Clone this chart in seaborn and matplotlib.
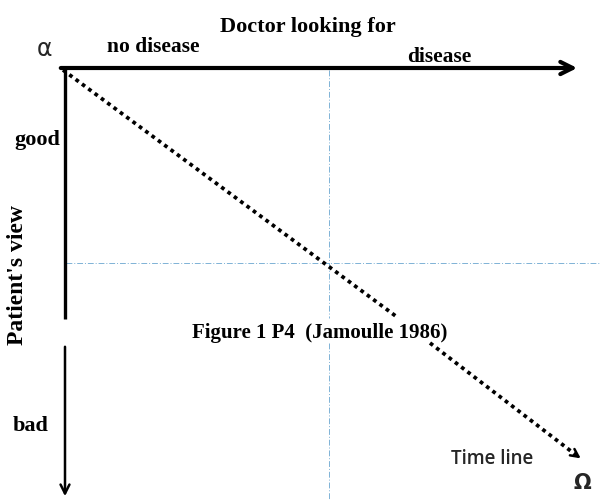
import pandas as pd
import matplotlib.pyplot as plt
import seaborn as sns

sns.set_style("white")
plt.rcParams['font.family'] = ['Liberation Serif', 'DejaVu Sans']

# Diagram geometry (canvas pixels, y pointing down)
time_x = [63, 397, 430, 576]
time_y = [70, 317, 343, 455]
time_seg = ["a", "a", "b", "b"]
arrow_tip = (583, 460)

h_axis_x = [58, 580]
h_axis_y = 68
v_axis_x = 65
v_axis_top = [68, 319]
v_axis_bottom = [344, 499]

cross_x = 329
cross_y = 263
cross_v_parts = [(70, 318), (343, 501)]
cross_h = [66, 600]

df_time = pd.DataFrame({"x": time_x, "y": time_y, "seg": time_seg})

fig = plt.figure(figsize=(6, 5.01), dpi=100)
ax = fig.add_axes([0, 0, 1, 1])
ax.set_xlim(0, 600)
ax.set_ylim(501, 0)
ax.axis("off")

# quadrant cross (light blue dash-dot)
guide_col = "#7fb2d6"
for y0, y1 in cross_v_parts:
    ax.plot([cross_x, cross_x], [y0, y1], color=guide_col, lw=0.7, ls=(0, (6, 2, 1, 2)))
ax.plot(cross_h, [cross_y, cross_y], color=guide_col, lw=0.7, ls=(0, (6, 2, 1, 2)))

# time line (dotted)
sns.lineplot(data=df_time, x="x", y="y", units="seg", estimator=None, sort=False,
             color="black", lw=2.7, ax=ax, legend=False)
for line in ax.lines[-2:]:
    line.set_dashes((1, 1.1))
ax.annotate("", xy=arrow_tip, xytext=(time_x[-1] - 2, time_y[-1] - 1.5),
            arrowprops=dict(arrowstyle="->", color="black", lw=1.8, mutation_scale=14))

# main axes
ax.annotate("", xy=(h_axis_x[1], h_axis_y), xytext=(h_axis_x[0], h_axis_y),
            arrowprops=dict(arrowstyle="->", color="black", lw=3, mutation_scale=22))
ax.plot([v_axis_x, v_axis_x], v_axis_top, color="black", lw=2.4, solid_capstyle="butt")
ax.annotate("", xy=(v_axis_x, v_axis_bottom[1]), xytext=(v_axis_x, v_axis_bottom[0]),
            arrowprops=dict(arrowstyle="->", color="black", lw=1.8, mutation_scale=16))

# labels
bold = dict(fontweight="bold", color="black")
ax.text(308, 27, "Doctor looking for", fontsize=16, ha="center", va="center", **bold)
ax.text(153, 47, "no disease", fontsize=15.5, ha="center", va="center", **bold)
ax.text(439, 57, "disease", fontsize=15.5, ha="center", va="center", **bold)
ax.text(45, 49, "α", fontsize=17, ha="center", va="center", family="DejaVu Sans")
ax.text(37, 140, "good", fontsize=16, ha="center", va="center", **bold)
ax.text(18, 275, "Patient's view", fontsize=17, rotation=90, ha="center", va="center", **bold)
ax.text(31, 426, "bad", fontsize=16, ha="center", va="center", **bold)
ax.text(320, 333, "Figure 1 P4  (Jamoulle 1986)", fontsize=15, ha="center", va="center", **bold)
ax.text(492, 459, "Time line", fontsize=13.5, ha="center", va="center",
        family="Open Sans", fontweight="semibold")
ax.text(582, 483, "Ω", fontsize=15, ha="center", va="center", family="DejaVu Sans",
        fontweight="bold")

fig.savefig("out.png", dpi=100)
